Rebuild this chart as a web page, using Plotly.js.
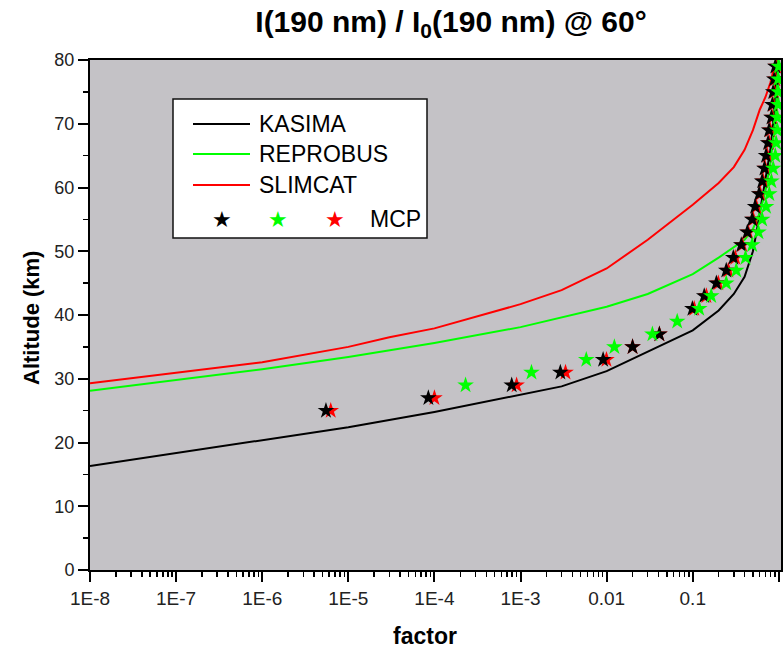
<!DOCTYPE html>
<html>
<head>
<meta charset="utf-8">
<script src="https://cdn.plot.ly/plotly-3.0.1.min.js"></script>
<style>html,body{margin:0;padding:0;background:#fff;}#chart{width:784px;height:652px;}</style>
</head>
<body>
<div id="chart"></div>
<script>
// ---- Model curves (factor vs altitude) ----
const kasimaFactor = [1e-8, 1e-7, 1e-6, 1e-5, 1e-4, 1e-3, 3e-3, 0.01, 0.03, 0.1, 0.2, 0.3, 0.4, 0.5, 0.55, 0.6, 0.65, 0.7, 0.8, 0.9, 0.96];
const kasimaAlt    = [16.3, 18.3, 20.4, 22.4, 24.8, 27.5, 28.8, 31.2, 34.2, 37.6, 40.7, 43.3, 46.0, 50.0, 53.0, 56.0, 59.0, 61.5, 66.0, 73.0, 80.0];

const reprobusFactor = [1e-8, 1e-7, 1e-6, 1e-5, 1e-4, 1e-3, 0.01, 0.03, 0.1, 0.2, 0.3, 0.4, 0.5, 0.6, 0.7, 0.8, 0.9, 0.95, 0.98];
const reprobusAlt    = [28.1, 29.8, 31.5, 33.4, 35.6, 38.1, 41.3, 43.3, 46.4, 49.0, 50.6, 51.8, 53.5, 56.0, 59.5, 64.0, 70.0, 75.0, 80.0];

const slimcatFactor = [1e-8, 1e-7, 1e-6, 1e-5, 3e-5, 1e-4, 1e-3, 3e-3, 0.01, 0.03, 0.1, 0.2, 0.3, 0.4, 0.5, 0.6, 0.7, 0.8, 0.9, 0.93];
const slimcatAlt    = [29.3, 31.0, 32.6, 35.0, 36.5, 37.9, 41.7, 43.9, 47.3, 51.8, 57.3, 60.7, 63.2, 65.9, 69.0, 72.2, 74.2, 76.5, 79.2, 80.0];

// ---- MCP points ----
const mcpBlackAlt    = [25, 27, 29, 31, 33, 35, 37, 41, 43, 45, 47, 49, 51, 53, 55, 57, 59, 61, 63, 65, 67, 69, 71, 73, 75, 77, 79];
const mcpBlackFactor = [5.5e-6, 8.5e-5, 7.9e-4, 2.9e-3, 9.1e-3, 0.020, 0.041, 0.099, 0.136, 0.188, 0.245, 0.296, 0.366, 0.43, 0.49, 0.53, 0.59, 0.64, 0.68, 0.71, 0.75, 0.77, 0.82, 0.84, 0.86, 0.885, 0.91];

const mcpRedAlt    = [25, 27, 29, 31, 33, 35, 37, 41, 43, 45, 47, 49, 51, 53, 55, 57, 59, 61, 63, 65, 67, 69, 71, 73, 75, 77, 79];
const mcpRedFactor = [6.25e-6, 1.0e-4, 9.0e-4, 3.33e-3, 0.00995, 0.020, 0.041, 0.104, 0.144, 0.198, 0.259, 0.312, 0.376, 0.44, 0.505, 0.547, 0.608, 0.659, 0.695, 0.735, 0.775, 0.795, 0.84, 0.86, 0.885, 0.91, 0.93];

const mcpGreenAlt    = [29, 31, 33, 35, 37, 39, 41, 43, 45, 47, 49, 51, 53, 55, 57, 59, 61, 63, 65, 67, 69, 71, 73, 75, 77, 79];
const mcpGreenFactor = [2.3e-4, 1.34e-3, 5.8e-3, 0.0123, 0.034, 0.066, 0.119, 0.164, 0.245, 0.32, 0.41, 0.49, 0.58, 0.64, 0.71, 0.775, 0.82, 0.86, 0.91, 0.93, 0.96, 0.96, 0.985, 0.985, 0.985, 1.0];

// ---- Axis ticks ----
const xTickVals = [1e-8, 1e-7, 1e-6, 1e-5, 1e-4, 1e-3, 1e-2, 1e-1, 1];
const xTickText = ['1E-8', '1E-7', '1E-6', '1E-5', '1E-4', '1E-3', '0.01', '0.1', '1'];

const legendNames = ['KASIMA', 'REPROBUS', 'SLIMCAT', 'MCP'];

const BLACK = '#000000', GREEN = '#00ff00', RED = '#ff0000';

const xMinor = [];
for (let e = -8; e < 0; e++) for (let d = 2; d <= 9; d++) xMinor.push(d * Math.pow(10, e));

const lineStyle = c => ({color: c, width: 2});
const starStyle = c => ({symbol: 'star', size: 12.5, color: c, line: {width: 0}});

const traces = [
  {x: kasimaFactor, y: kasimaAlt, mode: 'lines', line: lineStyle(BLACK), name: legendNames[0]},
  {x: reprobusFactor, y: reprobusAlt, mode: 'lines', line: lineStyle(GREEN), name: legendNames[1]},
  {x: slimcatFactor, y: slimcatAlt, mode: 'lines', line: lineStyle(RED), name: legendNames[2]},
  {x: mcpRedFactor, y: mcpRedAlt, mode: 'markers', marker: starStyle(RED), name: 'MCP red'},
  {x: mcpBlackFactor, y: mcpBlackAlt, mode: 'markers', marker: starStyle(BLACK), name: 'MCP black'},
  {x: mcpGreenFactor, y: mcpGreenAlt, mode: 'markers', marker: starStyle(GREEN), name: 'MCP green'}
];

// plot area in pixels: left 90, right 781, top 60, bottom 570
const PX0 = 90, PW = 691, PY0 = 570, PH = 510;
const px = v => (v - PX0) / PW;
const py = v => (PY0 - v) / PH;

const FONT = 'Liberation Sans, Arial, sans-serif';
const shapes = [
  {type: 'rect', xref: 'paper', yref: 'paper', x0: px(173), x1: px(427), y0: py(238), y1: py(99),
   fillcolor: '#ffffff', line: {color: '#111', width: 1.5}, layer: 'above'}
];
const rowsY = [124, 154, 185];
const rowColors = [BLACK, GREEN, RED];
rowsY.forEach((yy, i) => {
  shapes.push({type: 'line', xref: 'paper', yref: 'paper', x0: px(193), x1: px(250), y0: py(yy), y1: py(yy),
               line: {color: rowColors[i], width: 2}, layer: 'above'});
});

const annotations = [];
rowsY.forEach((yy, i) => {
  annotations.push({xref: 'paper', yref: 'paper', x: px(257), y: py(yy), xanchor: 'left', yanchor: 'middle',
    text: legendNames[i], showarrow: false, font: {family: FONT, size: 23, color: '#000'}});
});
[[222, BLACK], [278, GREEN], [335, RED]].forEach(([xx, c]) => {
  annotations.push({xref: 'paper', yref: 'paper', x: px(xx), y: py(219), xanchor: 'center', yanchor: 'middle',
    text: '★', showarrow: false, font: {family: 'DejaVu Sans', size: 22, color: c}});
});
annotations.push({xref: 'paper', yref: 'paper', x: px(368), y: py(219), xanchor: 'left', yanchor: 'middle',
  text: legendNames[3], showarrow: false, font: {family: FONT, size: 23, color: '#000'}});
annotations.push({xref: 'paper', yref: 'paper', x: px(425), y: py(636), xanchor: 'center', yanchor: 'middle',
  text: '<b>factor</b>', showarrow: false, font: {family: FONT, size: 23, color: '#000'}});
annotations.push({xref: 'paper', yref: 'paper', x: px(31), y: py(318), xanchor: 'center', yanchor: 'middle',
  text: '<b>Altitude (km)</b>', textangle: -90, showarrow: false, font: {family: FONT, size: 22, color: '#000'}});

const layout = {
  width: 784, height: 652,
  margin: {l: 90, r: 3, t: 60, b: 82},
  paper_bgcolor: '#ffffff',
  plot_bgcolor: '#c4c2c6',
  showlegend: false,
  title: {
    text: '<b>I(190 nm) / I<sub>0</sub>(190 nm) @ 60°</b>',
    font: {family: FONT, size: 30, color: '#000'},
    x: 451 / 784, xref: 'container', xanchor: 'center',
    y: 1 - 21 / 652, yref: 'container', yanchor: 'middle'
  },
  xaxis: {
    type: 'log', range: [-8, 0.025],
    tickmode: 'array', tickvals: xTickVals, ticktext: xTickText,
    ticks: 'outside', ticklen: 10, tickwidth: 2, tickcolor: '#000',
    minor: {tickmode: 'array', tickvals: xMinor, ticks: 'outside', ticklen: 5, tickwidth: 1.5, tickcolor: '#000', showgrid: false},
    showline: true, linewidth: 2, linecolor: '#000', mirror: true,
    showgrid: false, zeroline: false,
    tickfont: {family: FONT, size: 19, color: '#222'}
  },
  yaxis: {
    range: [0, 80], tickmode: 'linear', tick0: 0, dtick: 10,
    ticks: 'outside', ticklen: 10, tickwidth: 2, tickcolor: '#000',
    minor: {dtick: 5, ticks: 'outside', ticklen: 5, tickwidth: 1.5, tickcolor: '#000', showgrid: false},
    showline: true, linewidth: 2, linecolor: '#000', mirror: true,
    showgrid: false, zeroline: false,
    tickfont: {family: FONT, size: 18, color: '#222'}
  },
  shapes: shapes,
  annotations: annotations
};

Plotly.newPlot('chart', traces, layout, {displayModeBar: false, staticPlot: true});
</script>
</body>
</html>
